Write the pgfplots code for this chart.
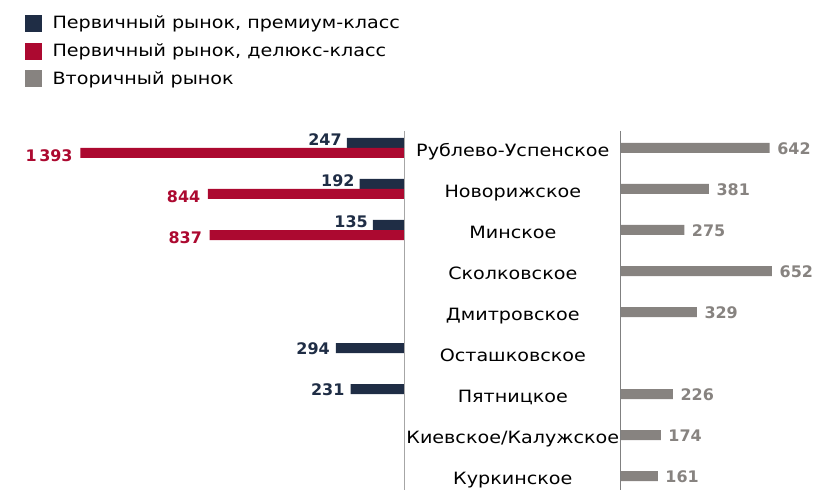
\documentclass[border=0pt]{standalone}
\usepackage{pgfplots}
\pgfplotsset{compat=1.18}
\usepackage{fontspec}
\setmainfont{DejaVu Sans}
\newfontfamily\widefam[FakeStretch=1.13]{DejaVu Sans}
\definecolor{navy}{HTML}{1F2D45}
\definecolor{wine}{HTML}{AC0930}
\definecolor{stone}{HTML}{878380}
\definecolor{axisgray}{HTML}{A6A6A6}
\newcommand{\numfont}{\fontsize{16}{16}\selectfont\bfseries}
\newcommand{\catfont}{\widefam\fontsize{17}{19}\selectfont}
\begin{document}
\begin{tikzpicture}[x=1bp,y=1bp]
\useasboundingbox (0,0) rectangle (818,490);
\begin{axis}[
  at={(0,0)}, anchor=south west,
  width=404.3bp, height=359bp, scale only axis,
  xmin=0, xmax=1738, x dir=reverse,
  ymin=-0.4146, ymax=8.341, y dir=reverse,
  axis lines=none,
  xbar, bar width=10bp, bar shift=0pt,
  point meta=explicit symbolic,
  nodes near coords,
  legend style={at={(axis description cs:0.0618,1.327)}, anchor=north west, draw=none, fill=none,
    font=\catfont, row sep=9.5bp, cells={anchor=west}, inner sep=0pt},
  legend cell align=left,
  clip=false,
]
\addlegendimage{legend image code/.code={\fill[navy] (0bp,-8bp) rectangle (16bp,8bp); \path (25bp,0bp);}}
\addlegendentry{Первичный рынок, премиум-класс}
\addlegendimage{legend image code/.code={\fill[wine] (0bp,-8bp) rectangle (16bp,8bp); \path (25bp,0bp);}}
\addlegendentry{Первичный рынок, делюкс-класс}
\addlegendimage{legend image code/.code={\fill[stone] (0bp,-8bp) rectangle (16bp,8bp); \path (25bp,0bp);}}
\addlegendentry{Вторичный рынок}
% premium, rows with deluxe
\addplot[fill=navy, draw=none, forget plot,
  every node near coord/.style={anchor=base east, inner sep=0pt, xshift=-5bp, yshift=-3bp, font=\numfont, text=navy}]
  coordinates {(247,-0.122) [247] (192,0.878) [192] (135,1.878) [135]};
% premium, rows without deluxe
\addplot[fill=navy, draw=none, forget plot,
  every node near coord/.style={anchor=base east, inner sep=0pt, xshift=-6bp, yshift=-6bp, font=\numfont, text=navy}]
  coordinates {(294,4.878) [294] (231,5.878) [231]};
% deluxe
\addplot[fill=wine, draw=none, forget plot,
  every node near coord/.style={anchor=base east, inner sep=0pt, xshift=-7.5bp, yshift=-8.7bp, font=\numfont, text=wine}]
  coordinates {(1393,0.122) [1\,393] (844,1.122) [844] (837,2.122) [837]};
\draw[axisgray, line width=1bp] (axis cs:0,-0.4146) -- (axis cs:0,8.341);
\end{axis}
\begin{axis}[
  at={(620.3bp,0)}, anchor=south west,
  width=197.7bp, height=359bp, scale only axis,
  xmin=0, xmax=850,
  ymin=-0.4146, ymax=8.341, y dir=reverse,
  axis lines=none,
  xbar, bar width=10bp, bar shift=0pt,
  point meta=explicit symbolic,
  nodes near coords,
  clip=false,
]
\addplot[fill=stone, draw=none,
  every node near coord/.style={anchor=base west, inner sep=0pt, xshift=7.5bp, yshift=-6.5bp, font=\numfont, text=stone}]
  coordinates {(642,0) [642] (381,1) [381] (275,2) [275] (652,3) [652] (329,4) [329] (226,6) [226] (174,7) [174] (161,8) [161]};
\draw[gray, line width=1bp] (axis cs:0,-0.4146) -- (axis cs:0,8.341);
\node[font=\catfont, anchor=base, xshift=-107.5bp, yshift=-8.7bp] at (axis cs:0,0) {Рублево-Успенское};
\node[font=\catfont, anchor=base, xshift=-107.5bp, yshift=-8.7bp] at (axis cs:0,1) {Новорижское};
\node[font=\catfont, anchor=base, xshift=-107.5bp, yshift=-8.7bp] at (axis cs:0,2) {Минское};
\node[font=\catfont, anchor=base, xshift=-107.5bp, yshift=-8.7bp] at (axis cs:0,3) {Сколковское};
\node[font=\catfont, anchor=base, xshift=-107.5bp, yshift=-8.7bp] at (axis cs:0,4) {Дмитровское};
\node[font=\catfont, anchor=base, xshift=-107.5bp, yshift=-8.7bp] at (axis cs:0,5) {Осташковское};
\node[font=\catfont, anchor=base, xshift=-107.5bp, yshift=-8.7bp] at (axis cs:0,6) {Пятницкое};
\node[font=\catfont, anchor=base, xshift=-107.5bp, yshift=-8.7bp] at (axis cs:0,7) {Киевское/Калужское};
\node[font=\catfont, anchor=base, xshift=-107.5bp, yshift=-8.7bp] at (axis cs:0,8) {Куркинское};
\end{axis}
\end{tikzpicture}
\end{document}
